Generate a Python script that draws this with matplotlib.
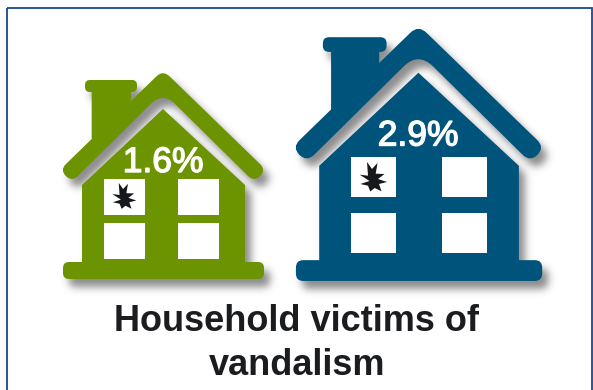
import matplotlib
matplotlib.use("Agg")
import matplotlib.pyplot as plt
import matplotlib.patheffects as pe
import numpy as np
from matplotlib.patches import PathPatch, Polygon, Rectangle
from matplotlib.path import Path

rates = [1.6, 2.9]
house_colors = ["#6c9300", "#00537b"]
title = "Household victims of\nvandalism"

# house placement: x origin, y origin, scale
origins = [(50, 60, 1.0), (280, 12.7, 1.225)]
label_pos = [(163, 172), (418, 145.5)]
# window boxes as left, top, width, height
windows = [
    [(104, 179, 41, 36), (178, 179, 41, 36), (104, 223, 41, 36), (178, 223, 41, 36)],
    [(351, 157, 45, 40), (442, 157, 45, 40), (351, 213, 45, 40), (442, 213, 45, 40)],
]
star_scale = [0.88, 1.0]
star_centers = [(124, 200.5), (373, 182)]

# x, y, corner radius
roof = [(113, 10, 9), (216.2, 110, 8.5), (204.2, 122, 8.5), (113, 32, 17), (21.8, 122, 8.5),
        (9.8, 110, 8.5), (41.7, 79, 0), (41.7, 32, 0), (35, 32, 5), (35, 20, 5),
        (87, 20, 5), (87, 32, 5), (81, 32, 0), (81, 41, 0)]
body = [(113, 49, 0), (195, 125, 0), (195, 203, 0), (32, 203, 0), (32, 125, 0)]
base = [(13, 202, 6), (214, 202, 6), (214, 219, 6), (13, 219, 6)]
star = [(-6, -20), (-1, -13), (4.5, -19), (2.7, -8.3), (11.5, -8), (5, -3), (14, 0), (6, 2),
        (8.5, 9.3), (1.7, 6), (-2.7, 9.5), (-5, 3.7), (-12.7, 2), (-3.5, -1), (-13.3, -7.3), (-5, -6.3)]


def rounded_path(points, ox, oy, s, dx=0, dy=0):
    verts, codes = [], []
    n = len(points)
    for i, (x, y, r) in enumerate(points):
        px, py = points[i - 1][:2]
        nx, ny = points[(i + 1) % n][:2]
        d1 = ((px - x) ** 2 + (py - y) ** 2) ** 0.5
        d2 = ((nx - x) ** 2 + (ny - y) ** 2) ** 0.5
        a = (x + (px - x) * r / d1, y + (py - y) * r / d1)
        b = (x + (nx - x) * r / d2, y + (ny - y) * r / d2)
        verts += [a, (x, y), b]
        codes += [Path.LINETO, Path.CURVE3, Path.CURVE3]
    codes[0] = Path.MOVETO
    verts.append(verts[0])
    codes.append(Path.CLOSEPOLY)
    return Path([(ox + vx * s + dx, oy + vy * s + dy) for vx, vy in verts], codes)


def new_canvas():
    fig = plt.figure(figsize=(5.93, 3.9), dpi=100)
    ax = fig.add_axes([0, 0, 1, 1])
    ax.set_xlim(0, 593)
    ax.set_ylim(390, 0)
    ax.axis("off")
    return fig, ax


def blurred_shadow(sigma=4.0):
    # draw the houses offset in black on a scratch canvas, then blur that mask
    sfig, sax = new_canvas()
    for ox, oy, s in origins:
        for p in [roof, body, base]:
            sax.add_patch(PathPatch(rounded_path(p, ox, oy, s, 6, 8), fc="black", ec="none"))
    sfig.canvas.draw()
    mask = 1 - np.asarray(sfig.canvas.buffer_rgba())[:, :, 0] / 255.0
    plt.close(sfig)
    k = np.exp(-0.5 * (np.arange(-12, 13) / sigma) ** 2)
    k = k / k.sum()
    mask = np.apply_along_axis(lambda v: np.convolve(v, k, mode="same"), 0, mask)
    mask = np.apply_along_axis(lambda v: np.convolve(v, k, mode="same"), 1, mask)
    return mask


fig, ax = new_canvas()

ax.add_patch(Rectangle((6.7, 7.5), 585, 400, fill=False, ec="#17468f", lw=1.3))

shadow = np.zeros((390, 593, 4))
shadow[:, :, :3] = 0.25
shadow[:, :, 3] = blurred_shadow() * 0.6
ax.imshow(shadow, extent=(0, 593, 390, 0), aspect="auto", zorder=2, interpolation="nearest")

for i in range(2):
    ox, oy, s = origins[i]
    for p in [roof, body, base]:
        ax.add_patch(PathPatch(rounded_path(p, ox, oy, s), fc=house_colors[i], ec="none", zorder=3))

    for wx, wy, ww, wh in windows[i]:
        ax.add_patch(Rectangle((wx, wy), ww, wh, fc="white", ec="none", zorder=4))

    cx, cy = star_centers[i]
    ax.add_patch(Polygon([(cx + a * star_scale[i], cy + b * star_scale[i]) for a, b in star],
                         fc="#17181c", ec="none", zorder=5))

    ax.text(label_pos[i][0], label_pos[i][1], f"{rates[i]}%", color="white", fontsize=25.5,
            family="Liberation Sans", ha="center", va="baseline", zorder=6,
            path_effects=[pe.withStroke(linewidth=1.0, foreground="white")])

ax.text(297, 343.5, title, color="#1b1c20", fontsize=26, family="Liberation Sans", weight="bold",
        ha="center", va="center", linespacing=1.33, zorder=6)

fig.savefig("out.png", dpi=100)
